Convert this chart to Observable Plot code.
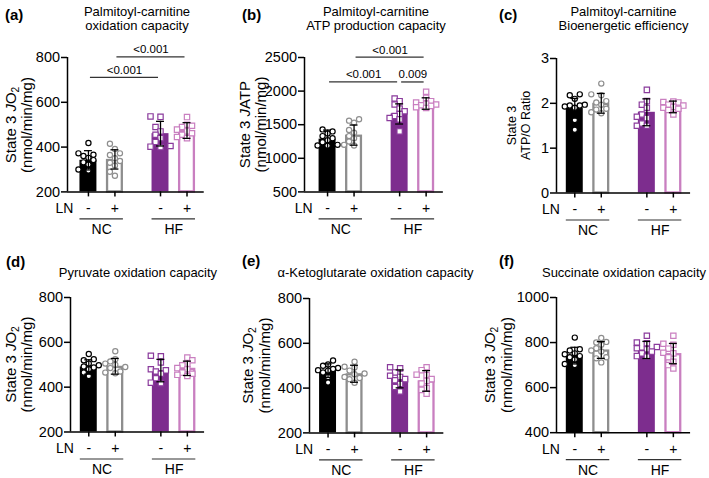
<!DOCTYPE html>
<html><head><meta charset="utf-8">
<script src="https://cdn.jsdelivr.net/npm/d3@7"></script>
<script src="https://cdn.jsdelivr.net/npm/@observablehq/plot@0.6"></script>
<style>
html,body{margin:0;padding:0;background:#fff;}
#root{position:relative;width:709px;height:478px;overflow:hidden;font-family:"Liberation Sans",Arial,Helvetica,sans-serif;}
#root > svg{position:absolute;}
</style></head><body><div id="root"></div>
<script>
// ---------------- data ----------------
const groups = ["NC", "HF"];
const lnLevels = ["-", "+"];
const factorLabel = "LN";
const panelLetters = ["(a)", "(b)", "(c)", "(d)", "(e)", "(f)"];
const titleA = ["Palmitoyl-carnitine", "oxidation capacity"];
const titleB = ["Palmitoyl-carnitine", "ATP production capacity"];
const titleC = ["Palmitoyl-carnitine", "Bioenergetic efficiency"];
const titleD = ["Pyruvate oxidation capacity"];
const titleE = ["α-Ketoglutarate oxidation capacity"];
const titleF = ["Succinate oxidation capacity"];
const ylabJO2 = [[{t: "State 3 "}, {t: "J", i: 1}, {t: "O"}, {t: "2", sub: 1}], [{t: "(nmol/min/mg)"}]];
const ylabJATP = [[{t: "State 3 "}, {t: "J", i: 1}, {t: "ATP"}], [{t: "(nmol/min/mg)"}]];
const ylabRatio = [[{t: "State 3"}], [{t: "ATP/O Ratio"}]];

const yDomainA = [200, 800], yTicksA = [200, 400, 600, 800];
const yDomainB = [500, 2500], yTicksB = [500, 1000, 1500, 2000, 2500];
const yDomainC = [0, 3], yTicksC = [0, 1, 2, 3];
const yDomainD = [200, 800], yTicksD = [200, 400, 600, 800];
const yDomainE = [200, 800], yTicksE = [200, 400, 600, 800];
const yDomainF = [400, 1000], yTicksF = [400, 600, 800, 1000];

// bar order: NC-, NC+, HF-, HF+
const meanA = [341, 345, 460, 474], sdA = [43, 43, 55, 35];
const ptsA = [
  [418, 372, 366, 360, 352, 342, 332, 322, 300, 296],
  [415, 392, 372, 365, 350, 338, 330, 318, 290, 272],
  [537, 535, 490, 470, 455, 440, 423, 405, 402, 400],
  [534, 500, 495, 490, 478, 470, 462, 455, 445, 440]
];
const bracketsA = [
  {from: 0, to: 2, y: 711, label: "<0.001"},
  {from: 1, to: 3, y: 803, label: "<0.001"}
];
const meanB = [1285, 1345, 1660, 1815], sdB = [135, 150, 150, 85];
const ptsB = [
  [1430, 1400, 1370, 1330, 1300, 1270, 1240, 1200, 1190, 1185],
  [1580, 1560, 1530, 1420, 1380, 1330, 1300, 1250, 1200, 1190],
  [1890, 1850, 1800, 1740, 1700, 1660, 1630, 1600, 1580, 1400],
  [1990, 1900, 1850, 1830, 1810, 1800, 1790, 1780, 1760, 1750]
];
const bracketsB = [
  {from: 0, to: 2, y: 2136, label: "<0.001"},
  {from: 2, to: 3, y: 2136, label: "0.009"},
  {from: 1, to: 3, y: 2507, label: "<0.001"}
];
const meanC = [1.89, 2.0, 1.8, 1.92], sdC = [0.22, 0.22, 0.3, 0.13];
const ptsC = [
  [2.2, 2.18, 2.1, 1.97, 1.95, 1.95, 1.93, 1.9, 1.63, 1.41],
  [2.44, 2.2, 2.18, 2.05, 2.02, 1.97, 1.88, 1.86, 1.8, 1.78],
  [2.3, 2.05, 1.97, 1.9, 1.75, 1.7, 1.67, 1.55, 1.5, 1.5],
  [2.04, 2.03, 2.02, 1.97, 1.95, 1.92, 1.9, 1.88, 1.85, 1.75]
];
const meanD = [490, 493, 474, 484], sdD = [32, 35, 50, 32];
const ptsD = [
  [548, 525, 520, 505, 498, 492, 488, 480, 465, 450],
  [560, 525, 515, 505, 500, 490, 485, 470, 465, 462],
  [540, 538, 510, 480, 475, 470, 460, 440, 420, 418],
  [532, 520, 505, 498, 485, 480, 465, 460, 455, 450]
];
const meanE = [478, 464, 441, 432], sdE = [30, 38, 40, 46];
const ptsE = [
  [523, 505, 500, 490, 485, 480, 478, 470, 450, 425],
  [518, 495, 492, 478, 465, 462, 450, 445, 440, 424],
  [493, 488, 470, 455, 450, 440, 435, 418, 405, 385],
  [493, 480, 460, 458, 440, 432, 420, 400, 392, 375]
];
const meanF = [742, 767, 767, 751], sdF = [37, 37, 38, 45];
const ptsF = [
  [822, 770, 765, 752, 748, 740, 735, 725, 705, 700],
  [820, 803, 800, 790, 775, 765, 760, 735, 730, 712],
  [830, 800, 797, 780, 775, 770, 760, 752, 740, 738],
  [830, 795, 790, 773, 755, 752, 735, 715, 700, 685]
];

// ---------------- styles / layout ----------------
const FONT = '"Liberation Sans", Arial, Helvetica, sans-serif';
const barFill = ["#000000", "#ffffff", "#7d2d8e", "#ffffff"];
const barStroke = [null, "#8e8e8e", null, "#c97fc0"];
const dotStroke = ["#000000", "#8e8e8e", "#8a3a9c", "#c97fc0"];
const dotSymbol = ["circle", "circle", "square", "square"];
const GAP = 2.72, HW = 0.32, PX_PER_X = 26.5, XMAX = 4.37;
const ML = 48, MR = 8, MT = 24, MB = 54;
const layout = [
  {L: 67, T: 57.3, B: 191.7, xmin: -0.79},
  {L: 304, T: 57.3, B: 191.7, xmin: -0.87},
  {L: 556, T: 58.3, B: 192.8, xmin: -0.69},
  {L: 70, T: 297.2, B: 431.7, xmin: -0.69},
  {L: 308.5, T: 298.3, B: 432.7, xmin: -0.70},
  {L: 556, T: 297.3, B: 432.5, xmin: -0.69}
];
const textLayout = [
  {letter: [5, 19.5], title: [137, 15.5], ylab: {x1: 16, x2: 31.5, cy: 125, fs: 15}},
  {letter: [242, 19.5], title: [376, 15.5], ylab: {x1: 250, x2: 266, cy: 124.5, fs: 15}},
  {letter: [499, 19.5], title: [623.5, 15.5], ylab: {x1: 516, x2: 529.5, cy: 125.5, fs: 12.5}},
  {letter: [6, 267], title: [138, 277], ylab: {x1: 16, x2: 31.5, cy: 364.5, fs: 15}},
  {letter: [242, 266], title: [375.5, 277], ylab: {x1: 253, x2: 269.5, cy: 365.5, fs: 15}},
  {letter: [499, 265.5], title: [624, 277], ylab: {x1: 495, x2: 511.5, cy: 365, fs: 15}}
];

const panels = [
  {mean: meanA, sd: sdA, pts: ptsA, yDomain: yDomainA, yTicks: yTicksA, brackets: bracketsA, title: titleA, ylab: ylabJO2},
  {mean: meanB, sd: sdB, pts: ptsB, yDomain: yDomainB, yTicks: yTicksB, brackets: bracketsB, title: titleB, ylab: ylabJATP},
  {mean: meanC, sd: sdC, pts: ptsC, yDomain: yDomainC, yTicks: yTicksC, brackets: [], title: titleC, ylab: ylabRatio},
  {mean: meanD, sd: sdD, pts: ptsD, yDomain: yDomainD, yTicks: yTicksD, brackets: [], title: titleD, ylab: ylabJO2},
  {mean: meanE, sd: sdE, pts: ptsE, yDomain: yDomainE, yTicks: yTicksE, brackets: [], title: titleE, ylab: ylabJO2},
  {mean: meanF, sd: sdF, pts: ptsF, yDomain: yDomainF, yTicks: yTicksF, brackets: [], title: titleF, ylab: ylabJO2}
];

// beeswarm-like horizontal spreading of points (pixel offsets)
function swarm(pixYs, minDist, step, maxOff) {
  const order = pixYs.map((_, i) => i).sort((a, b) => pixYs[a] - pixYs[b]);
  const placed = [], off = [];
  const nCand = 2 * Math.floor(maxOff / step);
  for (const i of order) {
    const y = pixYs[i];
    let best = 0, bestScore = -Infinity;
    for (let k = 0; k <= nCand; k++) {
      const c = k === 0 ? 0 : (k % 2 ? -1 : 1) * Math.ceil(k / 2) * step;
      const dmin = placed.reduce((m, p) => Math.min(m, Math.hypot(p.x - c, p.y - y)), Infinity);
      if (dmin >= minDist) { best = c; break; }
      if (dmin > bestScore) { bestScore = dmin; best = c; }
    }
    off[i] = best; placed.push({x: best, y});
  }
  return off;
}

const root = document.getElementById("root");

panels.forEach((p, pi) => {
  const lay = layout[pi];
  const plotW = (XMAX - lay.xmin) * PX_PER_X;
  const plotH = lay.B - lay.T;
  const [y0, y1] = p.yDomain;
  const pxPerY = plotH / (y1 - y0);
  const rows = groups.flatMap((g, gi) => lnLevels.map((l, li) => {
    const k = gi * 2 + li;
    return {g, l, gi, li, k, x: gi * GAP + li, mean: p.mean[k], sd: p.sd[k]};
  }));
  const grpRows = groups.map((g, gi) => ({g, x1: gi * GAP - HW, x2: gi * GAP + 1 + HW, xc: gi * GAP + 0.5}));
  const marks = [];
  rows.forEach(r => {
    const outlined = barStroke[r.k] != null;
    const ins = outlined ? 1.1 : 0;
    marks.push(Plot.rect([r], {
      x1: d => d.x - HW, x2: d => d.x + HW, y1: () => y0, y2: d => d.mean,
      fill: barFill[r.k], stroke: outlined ? barStroke[r.k] : "none", strokeWidth: 2.3,
      insetLeft: ins, insetRight: ins, insetTop: ins
    }));
  });
  rows.forEach(r => {
    const vals = p.pts[r.k];
    const offs = swarm(vals.map(v => v * pxPerY), 5.2, 5, 10);
    const data = vals.map((v, i) => ({v, x: r.x + offs[i] / PX_PER_X}));
    const sq = dotSymbol[r.k] === "square";
    marks.push(Plot.dot(data, {
      x: "x", y: "v", r: sq ? 3.0 : 2.6, symbol: dotSymbol[r.k],
      stroke: dotStroke[r.k], fill: "#ffffff", strokeWidth: 1.2
    }));
  });
  rows.forEach(r => {
    marks.push(Plot.ruleX([r], {x: "x", y1: d => d.mean - d.sd, y2: d => d.mean + d.sd, stroke: "#000", strokeWidth: 1.3}));
    marks.push(Plot.ruleY([r.mean - r.sd, r.mean + r.sd], {y: d => d, x1: () => r.x - 0.15, x2: () => r.x + 0.15, stroke: "#000", strokeWidth: 1.3}));
  });
  // axes
  marks.push(Plot.ruleX([lay.xmin], {x: d => d, y1: () => y0, y2: () => y1, stroke: "#000", strokeWidth: 1.5}));
  marks.push(Plot.ruleY([y0], {y: d => d, x1: () => lay.xmin, x2: () => XMAX, stroke: "#000", strokeWidth: 1.5}));
  marks.push(Plot.axisY({ticks: p.yTicks, tickFormat: d => String(d), tickSize: 6, tickPadding: 1.5, fontSize: 14.5, strokeWidth: 1.5, label: null}));
  marks.push(Plot.axisX({
    ticks: rows.map(r => r.x),
    tickFormat: x => (rows.find(r => Math.abs(r.x - x) < 1e-6) || {l: ""}).l,
    tickSize: 5, tickPadding: 6, fontSize: 14, strokeWidth: 1.5, label: null
  }));
  marks.push(Plot.text([factorLabel], {x: () => 0, y: () => y0, text: d => d, textAnchor: "end", dx: -15, dy: 21.5, lineAnchor: "bottom", fontSize: 14}));
  marks.push(Plot.ruleY(grpRows, {y: () => y0, x1: "x1", x2: "x2", dy: 27, stroke: "#333", strokeWidth: 1.2}));
  marks.push(Plot.text(grpRows, {x: "xc", y: () => y0, text: "g", dy: 42.5, lineAnchor: "bottom", fontSize: 14}));
  // significance brackets
  if (p.brackets.length) {
    marks.push(Plot.ruleY(p.brackets, {y: "y", x1: d => rows[d.from].x, x2: d => rows[d.to].x, insetLeft: 2, insetRight: 2, stroke: "#333", strokeWidth: 1.3}));
    marks.push(Plot.text(p.brackets, {x: d => (rows[d.from].x + rows[d.to].x) / 2, y: "y", text: "label", dy: -3.5, lineAnchor: "bottom", fontSize: 11.5}));
  }
  const svg = Plot.plot({
    width: ML + plotW + MR, height: MT + plotH + MB,
    marginLeft: ML, marginRight: MR, marginTop: MT, marginBottom: MB,
    x: {domain: [lay.xmin, XMAX]},
    y: {domain: [y0, y1]},
    style: {fontFamily: FONT, fontSize: "14px", background: "transparent", overflow: "visible", color: "#000"},
    marks
  });
  svg.style.position = "absolute";
  svg.style.left = (lay.L - ML) + "px";
  svg.style.top = (lay.T - MT) + "px";
  root.appendChild(svg);
});

// ---------------- text overlay: panel letters, titles, y labels ----------------
const ov = d3.select(root).append("svg")
  .attr("width", 709).attr("height", 478)
  .style("left", "0px").style("top", "0px")
  .style("pointer-events", "none")
  .attr("font-family", FONT);

panels.forEach((p, pi) => {
  const tl = textLayout[pi];
  ov.append("text").attr("x", tl.letter[0]).attr("y", tl.letter[1])
    .attr("font-size", 15).attr("font-weight", "bold").text(panelLetters[pi]);
  p.title.forEach((line, li) => {
    ov.append("text").attr("x", tl.title[0]).attr("y", tl.title[1] + li * 14.5)
      .attr("text-anchor", "middle").attr("font-size", 13).text(line);
  });
  const fs = tl.ylab.fs;
  p.ylab.forEach((segs, li) => {
    const x = li === 0 ? tl.ylab.x1 : tl.ylab.x2;
    const t = ov.append("text")
      .attr("transform", `translate(${x},${tl.ylab.cy}) rotate(-90)`)
      .attr("text-anchor", "middle").attr("font-size", fs);
    segs.forEach(s => {
      const ts = t.append("tspan").text(s.t);
      if (s.i) ts.attr("font-style", "italic");
      if (s.sub) ts.attr("font-size", fs * 0.68).attr("dy", fs * 0.22);
    });
  });
});
</script>
</body></html>
